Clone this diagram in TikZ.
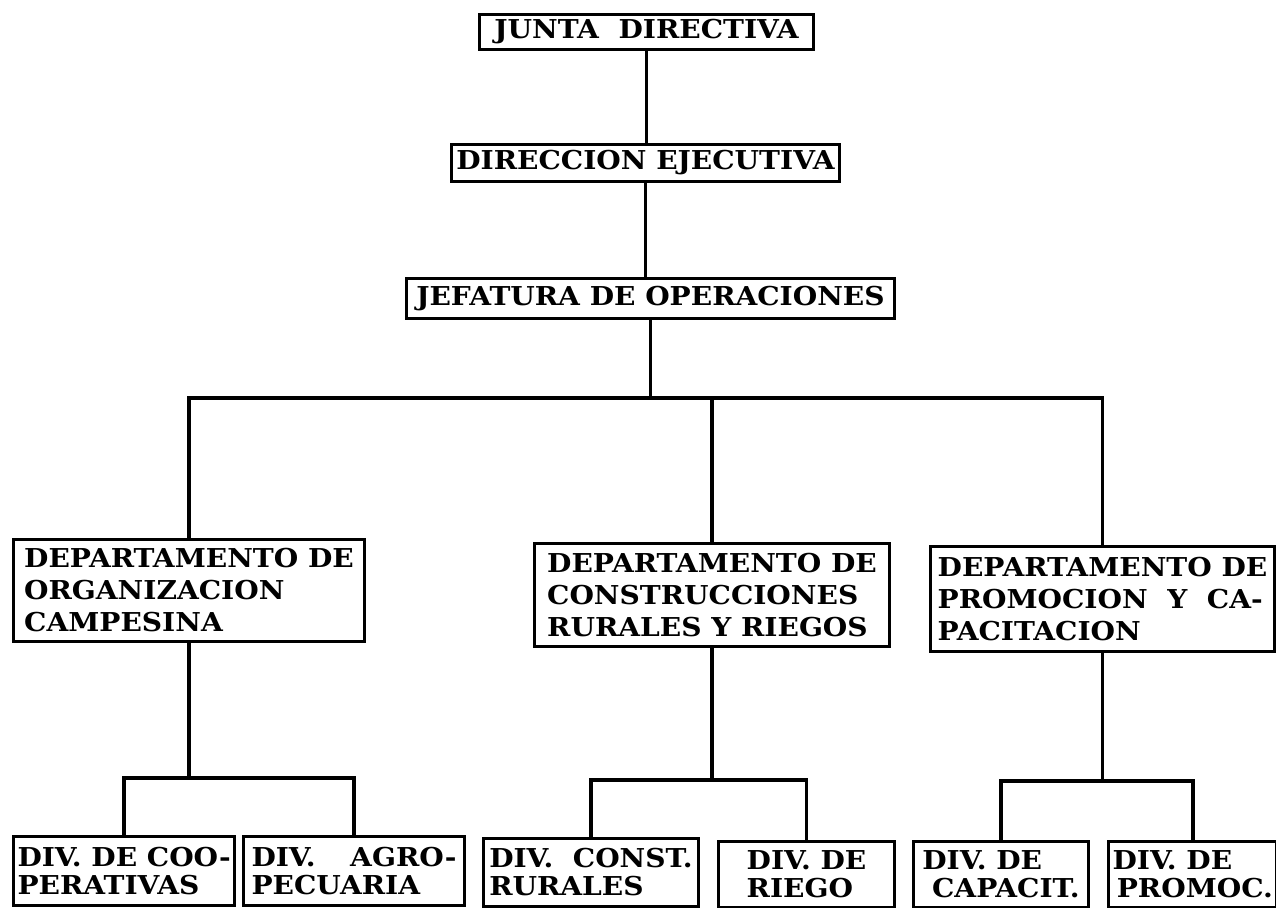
\documentclass[tikz,border=0pt]{standalone}
\usepackage{fontspec}
\newfontfamily\chartfont[FakeStretch=1.08]{DejaVu Serif}
\begin{document}
\begin{tikzpicture}[x=1pt,y=-1pt,
    box/.style={draw,line width=3pt,inner sep=4pt,align=left,anchor=north west,
      font=\chartfont\bfseries\fontsize{26}{32}\selectfont},
    divbox/.style={box,font=\chartfont\bfseries\fontsize{26}{28}\selectfont},
    link/.style={line width=3.8pt}]
  \useasboundingbox (0,0) rectangle (1276,907);
  \node[box,minimum width=334,minimum height=35] (junta) at (478,13) {JUNTA\ \ DIRECTIVA};
  \node[box,minimum width=388,minimum height=37,inner xsep=2pt] (direccion) at (450,143) {DIRECCION EJECUTIVA};
  \node[box,minimum width=488,minimum height=40] (jefatura) at (405,277) {JEFATURA DE OPERACIONES};
  \node[box,minimum width=351,minimum height=102] (deporg) at (12,538)
    {DEPARTAMENTO DE\\ORGANIZACION\\CAMPESINA};
  \node[box,minimum width=355,minimum height=103] (depcon) at (533,542)
    {DEPARTAMENTO DE\\CONSTRUCCIONES\\RURALES Y RIEGOS};
  \node[box,minimum width=344,minimum height=105] (depprom) at (929,545)
    {DEPARTAMENTO DE\\PROMOCION\ \ Y\ \ CA-\\PACITACION};
  \node[divbox,minimum width=212,minimum height=69] (divcoop) at (12,835)
    {DIV. DE COO-\\PERATIVAS};
  \node[divbox,minimum width=221,minimum height=69,text width=205] (divagro) at (242,835)
    {DIV.\hfill AGRO-\\PECUARIA};
  \node[divbox,minimum width=215,minimum height=68] (divconst) at (482,837)
    {DIV.\ \ CONST.\\RURALES};
  \node[divbox,minimum width=176,minimum height=66] (divriego) at (717,840)
    {DIV. DE\\RIEGO};
  \node[divbox,minimum width=175,minimum height=66] (divcap) at (912,840)
    {DIV. DE\\\ CAPACIT.};
  \node[divbox,minimum width=166,minimum height=66] (divprom) at (1107,840)
    {DIV. DE\\\,PROMOC.};
  \begin{scope}[link]
    \draw (junta.south) -- (junta.south |- direccion.north);
    \draw (direccion.south) -- (direccion.south |- jefatura.north);
    \draw (jefatura.south) -- ++(0,78) coordinate (bus);
    \draw (deporg.north) |- (bus) -| (depprom.north);
    \draw (bus -| depcon.north) -- (depcon.north);
    \draw (deporg.south) -- ++(0,135) coordinate (busorg);
    \draw (divcoop.north) |- (busorg) -| (divagro.north);
    \draw (depcon.south) -- ++(0,132) coordinate (buscon);
    \draw (divconst.north) |- (buscon) -| (divriego.north);
    \draw (depprom.south) -- ++(0,128) coordinate (busprom);
    \draw (divcap.north) |- (busprom) -| (divprom.north);
  \end{scope}
\end{tikzpicture}
\end{document}
